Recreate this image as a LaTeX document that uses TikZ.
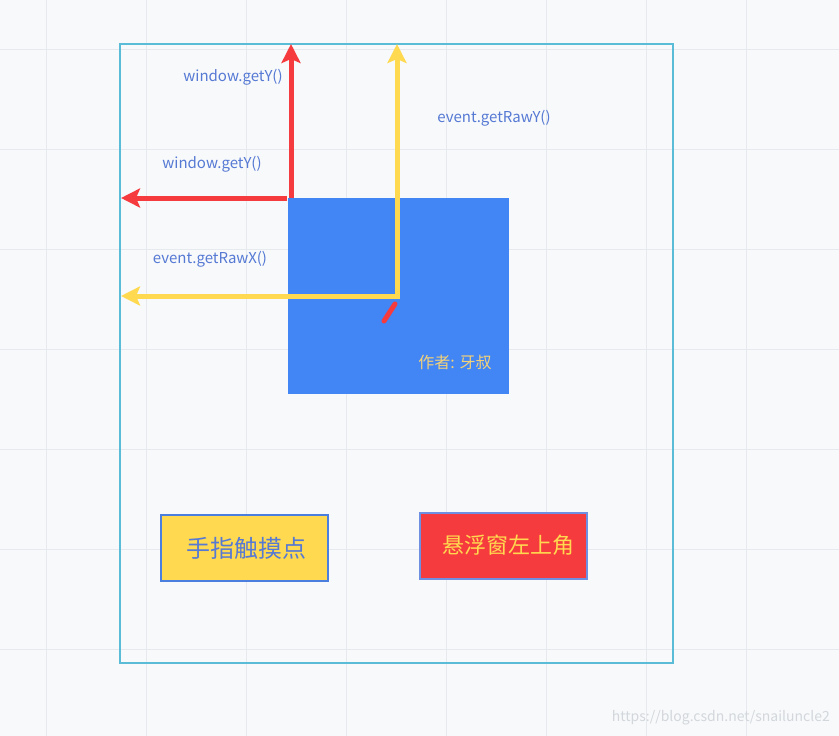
\documentclass[tikz,border=0pt]{standalone}
\usepackage{fontspec}
\setmainfont{Noto Sans CJK SC}
\usetikzlibrary{arrows.meta,positioning}
\definecolor{bg}{HTML}{F7F9FB}
\definecolor{gridc}{HTML}{E6EAEE}
\definecolor{framec}{HTML}{5BBCD8}
\definecolor{floatc}{HTML}{4285F4}
\definecolor{redc}{HTML}{F63B3E}
\definecolor{yelc}{HTML}{FFD94F}
\definecolor{labc}{HTML}{5679D4}
\definecolor{markc}{HTML}{F2D27A}
\definecolor{wmc}{HTML}{D3D7DB}
\definecolor{edgea}{HTML}{4A7FE0}
\definecolor{edgeb}{HTML}{6F8FE2}
\tikzset{
  grid/.style={gridc, line width=1pt},
  frame/.style={framec, line width=2pt},
  arr/.style={line width=5pt, -{Stealth[length=19pt,width=19pt,inset=4pt]}},
  lab/.style={labc, font=\fontsize{15}{17}\selectfont, inner sep=0pt},
  box/.style={minimum width=167pt, minimum height=66pt, line width=2pt, inner sep=0pt}
}
\begin{document}
\begin{tikzpicture}[x=1pt, y=-1pt]
\fill[bg] (0,0) rectangle (839,736);
\useasboundingbox (0,0) rectangle (839,736);
\foreach \x in {46,146,...,746} \draw[grid] (\x,0) -- (\x,736);
\foreach \y in {49,149,...,649} \draw[grid] (0,\y) -- (839,\y);
\draw[frame] (120,44) rectangle (673,663);
% floating window
\node[fill=floatc, minimum width=221pt, minimum height=196pt, inner sep=0pt] (win) at (398.5,296) {};
\node[markc, font=\fontsize{16}{18}\selectfont, inner sep=0pt] (author) at (455,362) {作者: 牙叔};
% arrows
\coordinate (corner) at (291,198);
\coordinate (touch) at (397,296);
\coordinate (top1) at (291,44);
\coordinate (left1) at (121,198);
\coordinate (top2) at (397,44);
\coordinate (left2) at (121,296);
\draw[arr, redc] (corner) -- (top1);
\draw[arr, redc] (287,198) -- (left1);
\draw[arr, yelc] (touch) -- (top2);
\draw[arr, yelc] (399.5,296) -- (left2);
\draw[redc, line width=5pt, line cap=round] (384,321) -- (395,304);
% labels
\node[lab] (wy1) at (233,77) {window.getY()};
\node[lab] (wy2) at (212,164) {window.getY()};
\node[lab] (ry) at (494,118) {event.getRawY()};
\node[lab] (rx) at (210,259) {event.getRawX()};
% legend
\node[box, fill=yelc, draw=edgea, text=labc, font=\fontsize{24}{27}\selectfont] (finger) at (244.5,548) {\hspace*{4pt}手指触摸点};
\node[box, fill=redc, draw=edgeb, text=yelc, font=\fontsize{22}{25}\selectfont] (origin) at (503.5,545.5) {\hspace*{10pt}悬浮窗左上角};
\node[wmc, font=\fontsize{14}{16}\selectfont, anchor=east, inner sep=0pt] (wm) at (830,718) {https://blog.csdn.net/snailuncle2};
\end{tikzpicture}
\end{document}
